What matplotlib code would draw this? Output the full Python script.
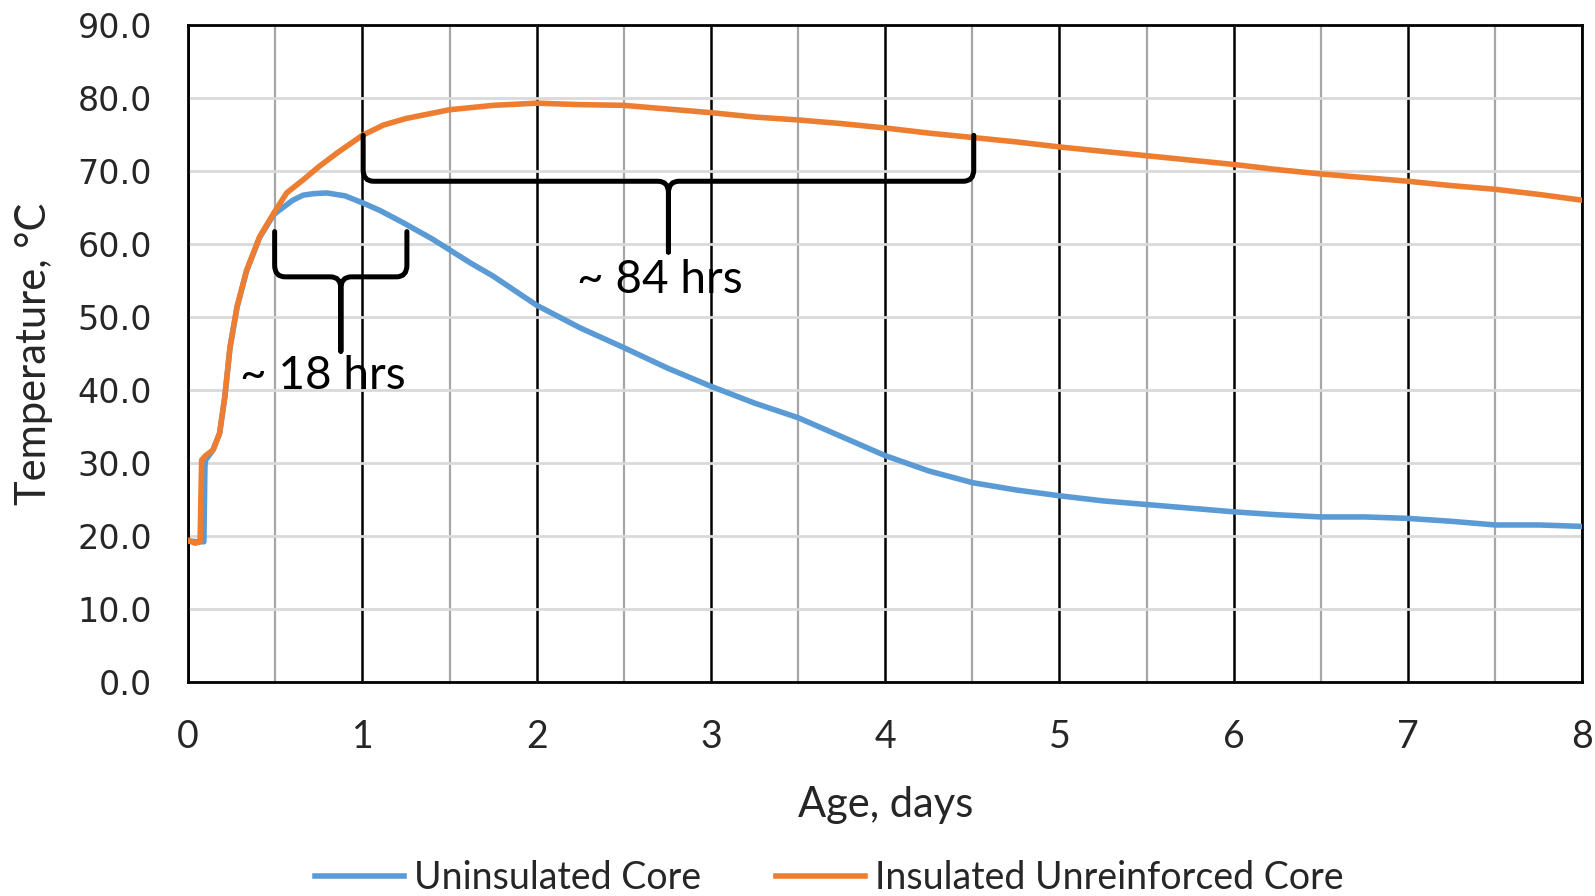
import matplotlib
matplotlib.use("Agg")
import matplotlib.pyplot as plt
from matplotlib.path import Path
from matplotlib.patches import PathPatch

BLUE, ORANGE = "#5B9BD5", "#ED7D31"
TXT = ["Lato", "DejaVu Sans"]

# core temperature logs, age in days
uninsulated_days = [0.0, 0.05, 0.09, 0.096, 0.10, 0.14, 0.18, 0.21, 0.24, 0.28, 0.335,
                    0.41, 0.49, 0.527, 0.6, 0.66, 0.72, 0.795, 0.9, 1.005, 1.1, 1.235,
                    1.4, 1.62, 1.75, 2.0, 2.25, 2.5, 2.75, 3.0, 3.25, 3.5, 3.75, 4.0,
                    4.25, 4.5, 4.75, 5.0, 5.25, 5.5, 5.75, 6.0, 6.25, 6.5, 6.75, 7.0,
                    7.25, 7.5, 7.75, 8.0]
uninsulated_temp = [19.3, 19.2, 19.2, 29.5, 30.4, 31.7, 34.0, 39.0, 45.8, 51.3, 56.3,
                    60.9, 64.0, 64.7, 66.0, 66.7, 66.9, 67.0, 66.6, 65.6, 64.6, 62.9,
                    60.7, 57.4, 55.6, 51.6, 48.5, 45.8, 43.0, 40.5, 38.2, 36.2, 33.6,
                    31.0, 28.9, 27.3, 26.3, 25.5, 24.8, 24.3, 23.8, 23.3, 22.9, 22.6,
                    22.6, 22.4, 22.0, 21.5, 21.5, 21.3]

insulated_days = [0.0, 0.04, 0.068, 0.077, 0.10, 0.144, 0.18, 0.21, 0.24, 0.28, 0.335,
                  0.41, 0.49, 0.565, 0.66, 0.75, 0.85, 1.0, 1.12, 1.25, 1.5, 1.75,
                  2.0, 2.25, 2.5, 2.75, 3.0, 3.25, 3.5, 3.75, 4.0, 4.25, 4.5, 4.75,
                  5.0, 5.25, 5.5, 5.75, 6.0, 6.25, 6.5, 6.75, 7.0, 7.25, 7.5, 7.75, 8.0]
insulated_temp = [19.4, 19.0, 19.2, 30.4, 31.0, 31.8, 34.1, 39.1, 45.9, 51.4, 56.4,
                  61.0, 64.2, 67.0, 68.8, 70.6, 72.4, 74.9, 76.3, 77.2, 78.4, 79.0,
                  79.3, 79.1, 79.0, 78.5, 78.0, 77.4, 77.0, 76.5, 75.9, 75.2, 74.6,
                  74.0, 73.3, 72.7, 72.1, 71.5, 70.9, 70.2, 69.6, 69.1, 68.6, 68.0,
                  67.5, 66.8, 66.0]


def brace(ax, x0, x1, ytop, ybar, xtip, ytip, rx=0.06, ry=1.6):
    """Curly bracket opening upward, pointing down at xtip."""
    verts = [(x0, ytop), (x0, ybar + ry), (x0, ybar), (x0 + rx, ybar),
             (xtip - rx, ybar), (xtip, ybar), (xtip, ybar - ry), (xtip, ytip),
             (xtip, ybar - ry), (xtip, ybar), (xtip + rx, ybar),
             (x1 - rx, ybar), (x1, ybar), (x1, ybar + ry), (x1, ytop)]
    codes = [Path.MOVETO, Path.LINETO, Path.CURVE3, Path.CURVE3,
             Path.LINETO, Path.CURVE3, Path.CURVE3, Path.LINETO,
             Path.LINETO, Path.CURVE3, Path.CURVE3,
             Path.LINETO, Path.CURVE3, Path.CURVE3, Path.LINETO]
    ax.add_patch(PathPatch(Path(verts, codes), fill=False, edgecolor="black",
                           linewidth=3.6, capstyle="round", joinstyle="round", zorder=4))


fig = plt.figure(figsize=(15.95, 8.96), dpi=100)
ax = fig.add_axes([0.118, 0.239, 0.874, 0.733])

ax.plot(uninsulated_days, uninsulated_temp, color=BLUE, lw=4,
        label="Uninsulated Core", zorder=3, solid_joinstyle="round")
ax.plot(insulated_days, insulated_temp, color=ORANGE, lw=4,
        label="Insulated Unreinforced Core", zorder=3, solid_joinstyle="round")

ax.set_xlim(0, 8)
ax.set_ylim(0, 90)
ax.set_xticks(range(0, 9))
ax.set_xticks([i + 0.5 for i in range(8)], minor=True)
ax.set_yticks(range(0, 91, 10))
ax.set_yticklabels([f"{v:.1f}" for v in range(0, 91, 10)])

# grid: light horizontals, grey half-day and black whole-day verticals
ax.grid(axis="y", color="#D9D9D9", lw=2.0, zorder=0)
ax.grid(axis="x", which="major", color="black", lw=1.8, zorder=1)
ax.grid(axis="x", which="minor", color="#A6A6A6", lw=1.6, zorder=1)
ax.set_axisbelow(True)
for s in ax.spines.values():
    s.set_color("black")
    s.set_linewidth(2.0)

ax.tick_params(axis="both", which="both", length=0)
ax.tick_params(axis="y", pad=26, labelsize=24, labelcolor="#262626")
ax.tick_params(axis="x", pad=27, labelsize=27, labelcolor="#262626")
for t in ax.get_xticklabels():
    t.set_family(TXT)

ax.set_xlabel("Age, days", fontsize=30, family=TXT, color="#262626")
ax.set_ylabel("Temperature, °C", fontsize=30, family=TXT, color="#262626")
ax.xaxis.set_label_coords(0.5, -0.159)
ax.yaxis.set_label_coords(-0.097, 0.5)

brace(ax, 0.496, 1.255, 61.7, 55.5, 0.876, 45.3)
ax.text(0.30, 41.9, "~ 18 hrs", fontsize=33, family=TXT, ha="left", va="center", zorder=5)
brace(ax, 1.004, 4.508, 74.9, 68.6, 2.756, 58.9)
ax.text(2.23, 55.1, "~ 84 hrs", fontsize=33, family=TXT, ha="left", va="center", zorder=5)

fig.legend(loc="center", bbox_to_anchor=(0.52, 0.02), ncol=2, frameon=False,
           prop={"family": TXT, "size": 27}, handlelength=2.36, handletextpad=0.27,
           columnspacing=2.0, labelcolor="#262626")

fig.savefig("out.png", dpi=100)
